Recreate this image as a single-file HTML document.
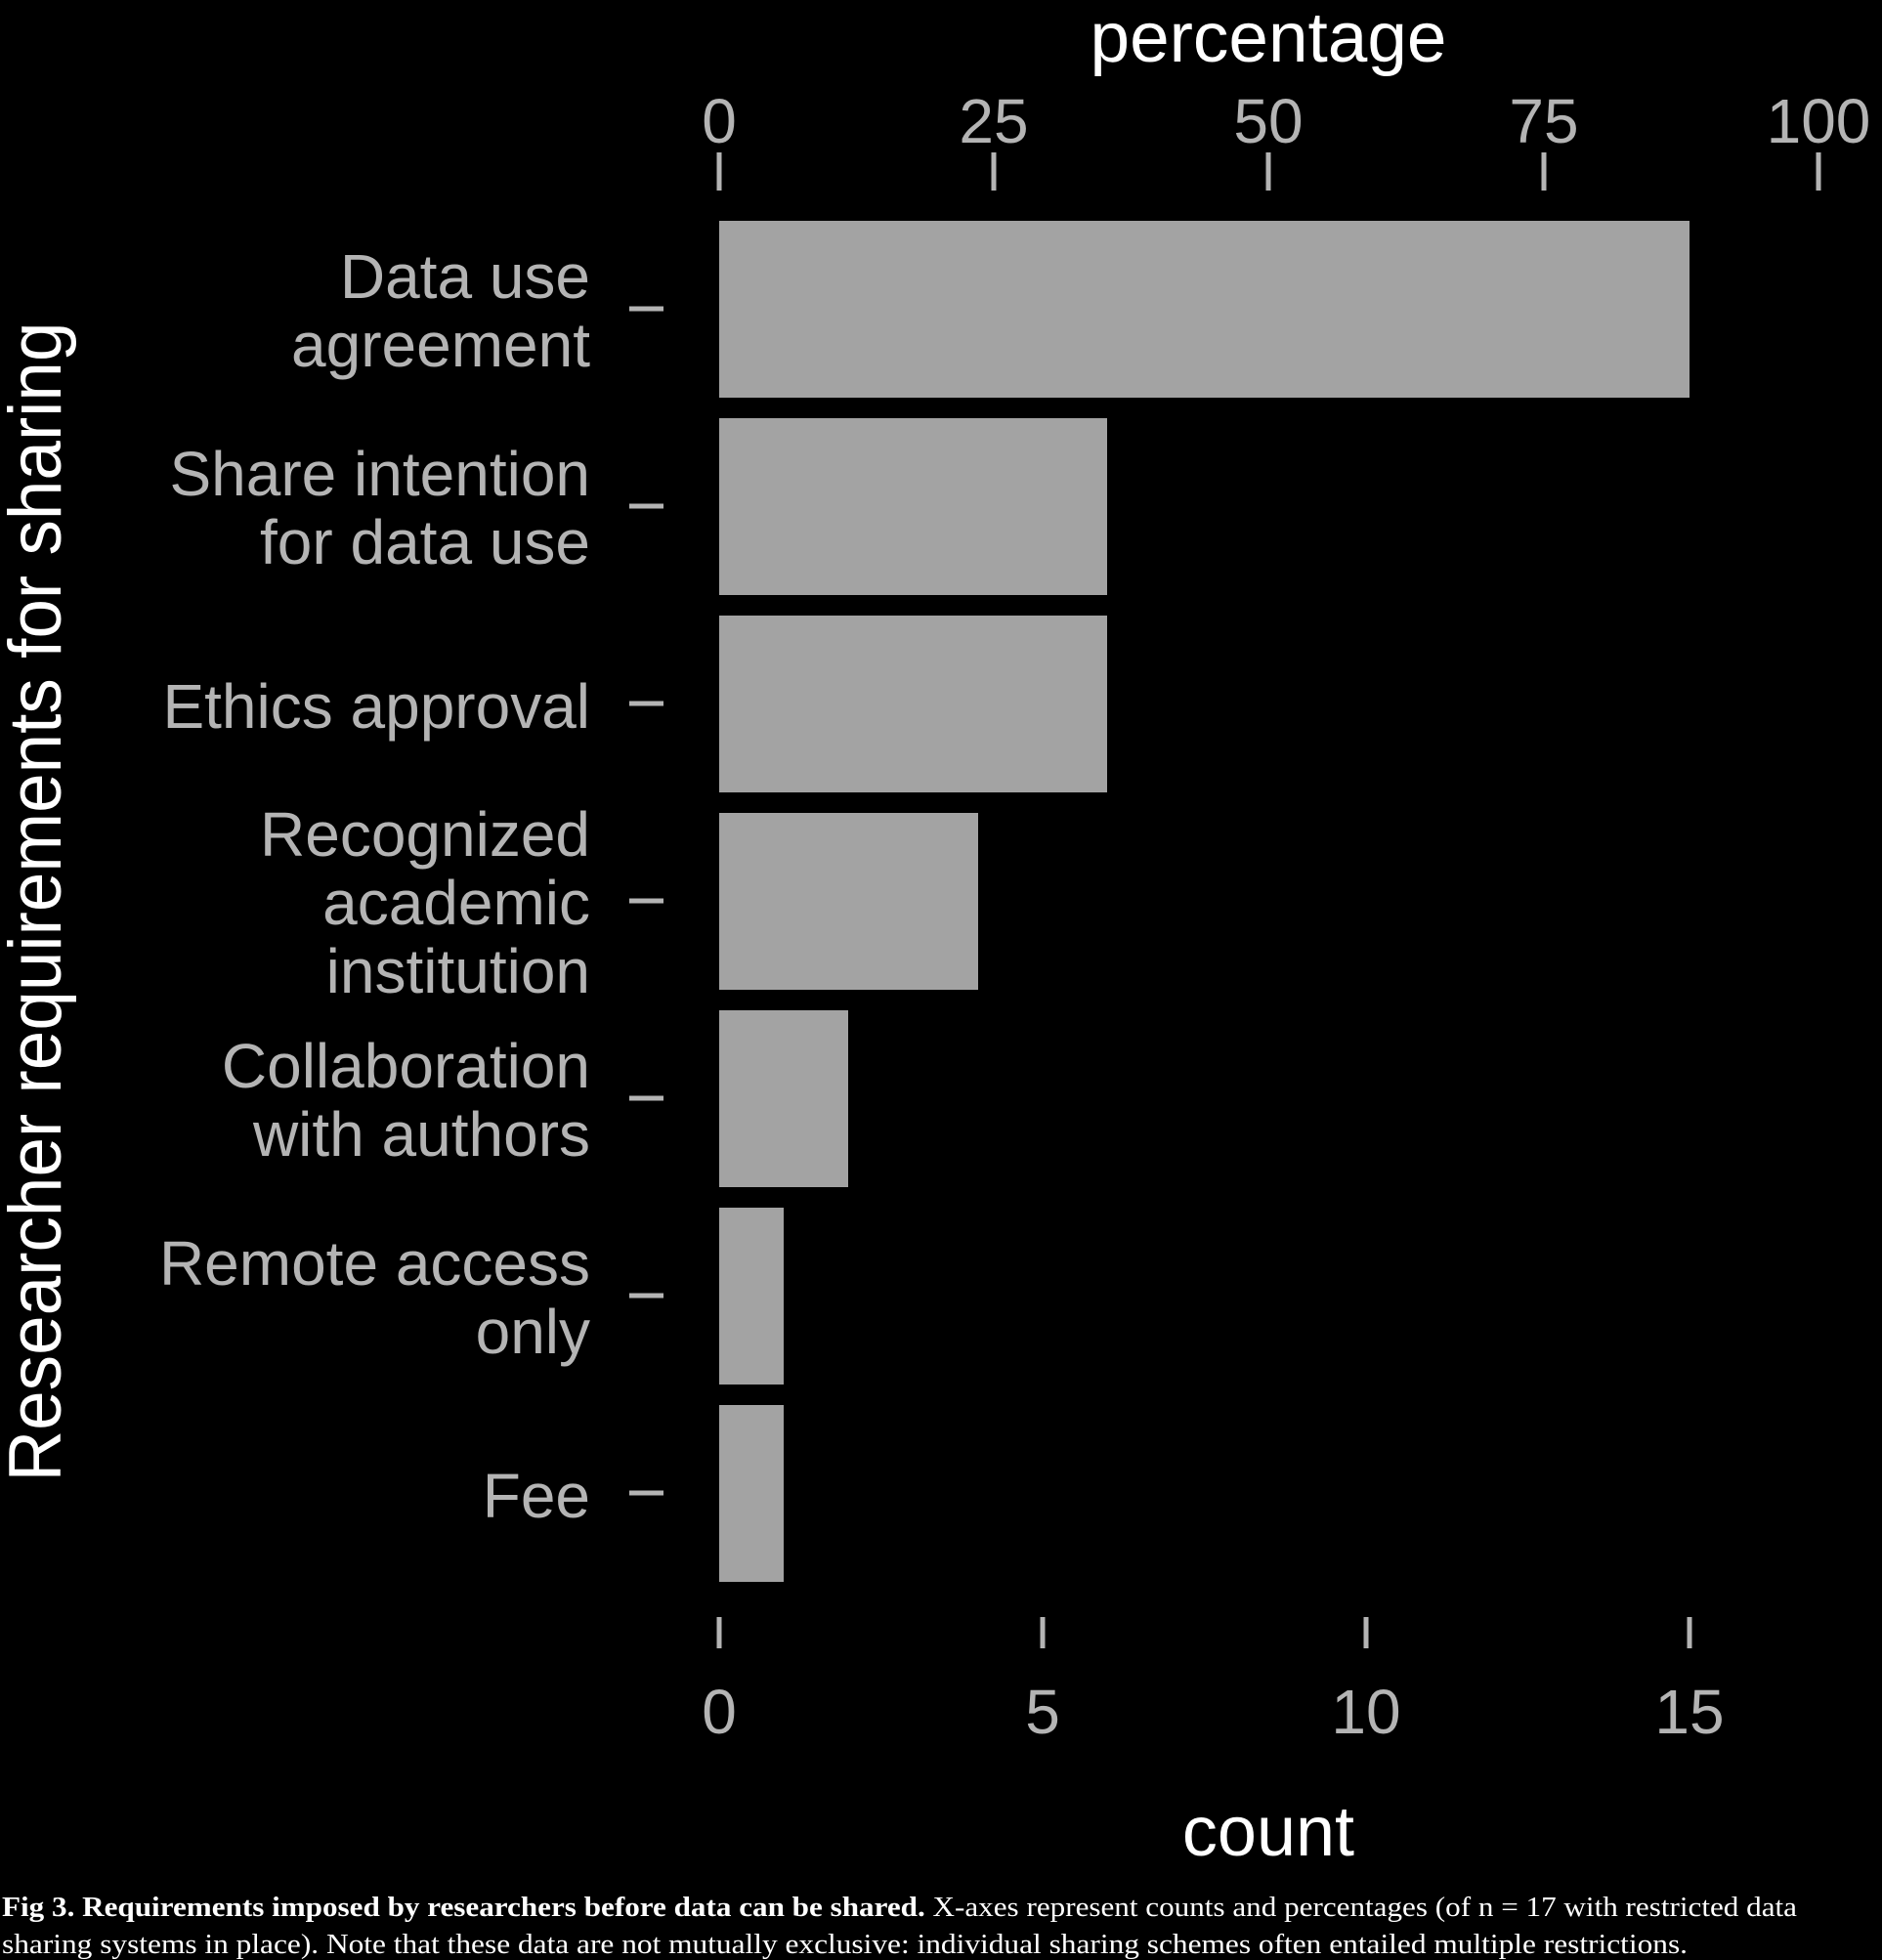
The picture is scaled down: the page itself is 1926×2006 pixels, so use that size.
<!DOCTYPE html>
<html><head><style>html,body{margin:0;padding:0;background:#000}svg{display:block}</style></head>
<body>
<svg width="1926" height="2006" viewBox="0 0 1926 2006" xmlns="http://www.w3.org/2000/svg">
<rect width="1926" height="2006" fill="#000"/>
<g font-family="Liberation Sans, Arial, sans-serif" fill="#b4b4b4">
<text x="1298" y="63" font-size="72" fill="#fff" text-anchor="middle" textLength="365" lengthAdjust="spacingAndGlyphs">percentage</text>
<g font-size="64" text-anchor="middle">
<text x="736" y="146">0</text><text x="1017" y="146">25</text><text x="1298" y="146">50</text><text x="1580" y="146">75</text><text x="1861" y="146">100</text>
</g>
<g stroke="#b4b4b4" stroke-width="5">
<line x1="736" y1="156" x2="736" y2="195"/><line x1="1017" y1="156" x2="1017" y2="195"/><line x1="1298" y1="156" x2="1298" y2="195"/><line x1="1580" y1="156" x2="1580" y2="195"/><line x1="1861" y1="156" x2="1861" y2="195"/>
<line x1="736" y1="1655" x2="736" y2="1687"/><line x1="1067" y1="1655" x2="1067" y2="1687"/><line x1="1398" y1="1655" x2="1398" y2="1687"/><line x1="1729" y1="1655" x2="1729" y2="1687"/>
<line x1="644" y1="316" x2="679" y2="316"/><line x1="644" y1="518" x2="679" y2="518"/><line x1="644" y1="720" x2="679" y2="720"/><line x1="644" y1="922" x2="679" y2="922"/><line x1="644" y1="1124" x2="679" y2="1124"/><line x1="644" y1="1326" x2="679" y2="1326"/><line x1="644" y1="1528" x2="679" y2="1528"/>
</g>
<g fill="#a3a3a3">
<rect x="736" y="226" width="993" height="181"/>
<rect x="736" y="428" width="397" height="181"/>
<rect x="736" y="630" width="397" height="181"/>
<rect x="736" y="832" width="265" height="181"/>
<rect x="736" y="1034" width="132" height="181"/>
<rect x="736" y="1236" width="66" height="181"/>
<rect x="736" y="1438" width="66" height="181"/>
</g>
<g font-size="64" text-anchor="end">
<text x="604" y="305">Data use</text><text x="604" y="375">agreement</text>
<text x="604" y="507">Share intention</text><text x="604" y="577">for data use</text>
<text x="604" y="745">Ethics approval</text>
<text x="604" y="876">Recognized</text><text x="604" y="946">academic</text><text x="604" y="1016">institution</text>
<text x="604" y="1113">Collaboration</text><text x="604" y="1183">with authors</text>
<text x="604" y="1315">Remote access</text><text x="604" y="1385">only</text>
<text x="604" y="1553">Fee</text>
</g>
<g font-size="64" text-anchor="middle">
<text x="736" y="1774">0</text><text x="1067" y="1774">5</text><text x="1398" y="1774">10</text><text x="1729" y="1774">15</text>
</g>
<text x="1298" y="1899" font-size="72" fill="#fff" text-anchor="middle">count</text>
<text transform="translate(62,923) rotate(-90)" font-size="76" fill="#fff" text-anchor="middle" textLength="1187" lengthAdjust="spacingAndGlyphs">Researcher requirements for sharing</text>
</g>
<g font-family="Liberation Serif, Times New Roman, serif" font-size="28" fill="#fff">
<text x="2" y="1961" textLength="1837" lengthAdjust="spacingAndGlyphs"><tspan font-weight="bold">Fig 3. Requirements imposed by researchers before data can be shared.</tspan> X-axes represent counts and percentages (of n = 17 with restricted data</text>
<text x="2" y="1999" textLength="1725" lengthAdjust="spacingAndGlyphs">sharing systems in place). Note that these data are not mutually exclusive: individual sharing schemes often entailed multiple restrictions.</text>
</g>
</svg>
</body></html>
